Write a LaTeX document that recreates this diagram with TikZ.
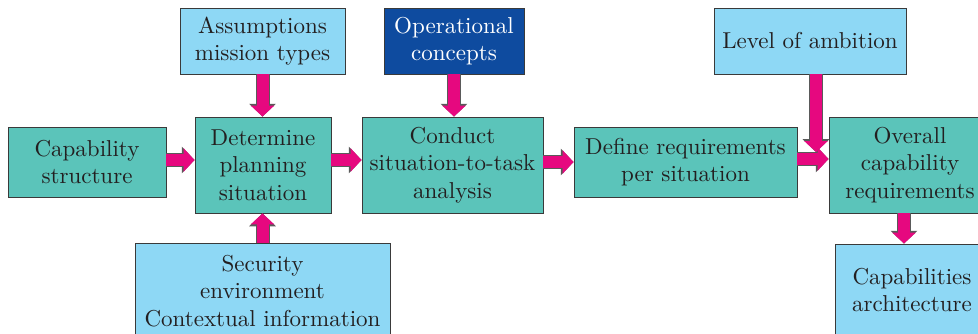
\documentclass[tikz,border=0pt]{standalone}
\usepackage{fontspec}
\setmainfont{lmroman10-regular}[Extension=.otf]
\usetikzlibrary{arrows.meta}
\definecolor{tealbox}{HTML}{5BC4BA}
\definecolor{skybox}{HTML}{8ED8F5}
\definecolor{navybox}{HTML}{0E4B9F}
\definecolor{flowpink}{HTML}{E6087F}
\definecolor{flowedge}{HTML}{5A5A5A}
\definecolor{inkdark}{HTML}{231F20}
\definecolor{boxedge}{HTML}{3A3A3A}
\begin{document}
\begin{tikzpicture}[x=1pt,y=-1pt,
  basebox/.style={draw=boxedge, line width=0.9pt, inner sep=0pt, align=center,
    text=inkdark, font=\fontsize{23}{27.5}\selectfont},
  procbox/.style={basebox, fill=tealbox},
  inputbox/.style={basebox, fill=skybox},
  darkbox/.style={basebox, fill=navybox, text=white},
  flow/.style={line width=12pt, flowpink, -{Triangle[length=11pt,width=23pt]},
    preaction={draw=flowedge, line width=14pt, -{Triangle[length=12.8pt,width=26pt]}}},
]
\useasboundingbox (0,0) rectangle (978,333);

% main process chain
\node[procbox, minimum width=158pt, minimum height=70pt] (cap) at (87,162)
  {Capability\\structure};
\node[procbox, minimum width=136pt, minimum height=96pt] (det) at (263,165)
  {Determine\\planning\\situation};
\node[procbox, minimum width=181pt, minimum height=96pt] (con) at (452.5,165)
  {Conduct\\situation-to-task\\analysis};
\node[procbox, minimum width=223pt, minimum height=70pt] (def) at (685.5,162)
  {Define requirements\\per situation};
\node[procbox, minimum width=162pt, minimum height=96pt] (ovr) at (910,165)
  {Overall\\capability\\requirements};

% inputs
\node[inputbox, minimum width=165pt, minimum height=66pt] (ass) at (262.5,41)
  {Assumptions\\mission types};
\node[darkbox, minimum width=140pt, minimum height=66pt] (ops) at (454,41)
  {Operational\\concepts};
\node[inputbox, minimum width=192pt, minimum height=66pt] (amb) at (810,41)
  {Level of ambition};
\node[inputbox, minimum width=255pt, minimum height=96pt] (sec) at (262.5,291)
  {Security\\environment\\Contextual information};
\node[inputbox, minimum width=154pt, minimum height=92pt] (caps) at (912,290)
  {Capabilities\\architecture};

\coordinate (join) at (816,152);

% flow arrows
\draw[flow] ([yshift=2pt]cap.east) -- ([yshift=2pt]cap.east -| det.west);
\draw[flow] ([yshift=5pt]det.east) -- ([yshift=5pt]det.east -| con.west);
\draw[flow] (con.east |- def.west) -- (def.west);
\draw[flow] ([yshift=3pt]def.east) -- ([yshift=3pt]def.east -| ovr.west);
\draw[flow] (ass.south) -- (ass.south |- det.north);
\draw[flow] (ops.south) -- (ops.south |- con.north);
\draw[flow] (sec.north) -- (sec.north |- det.south);
\draw[flow] (amb.south -| join) -- (join);
\draw[flow] ([xshift=-6pt]ovr.south) -- ([xshift=-6pt]ovr.south |- caps.north);
\end{tikzpicture}
\end{document}
